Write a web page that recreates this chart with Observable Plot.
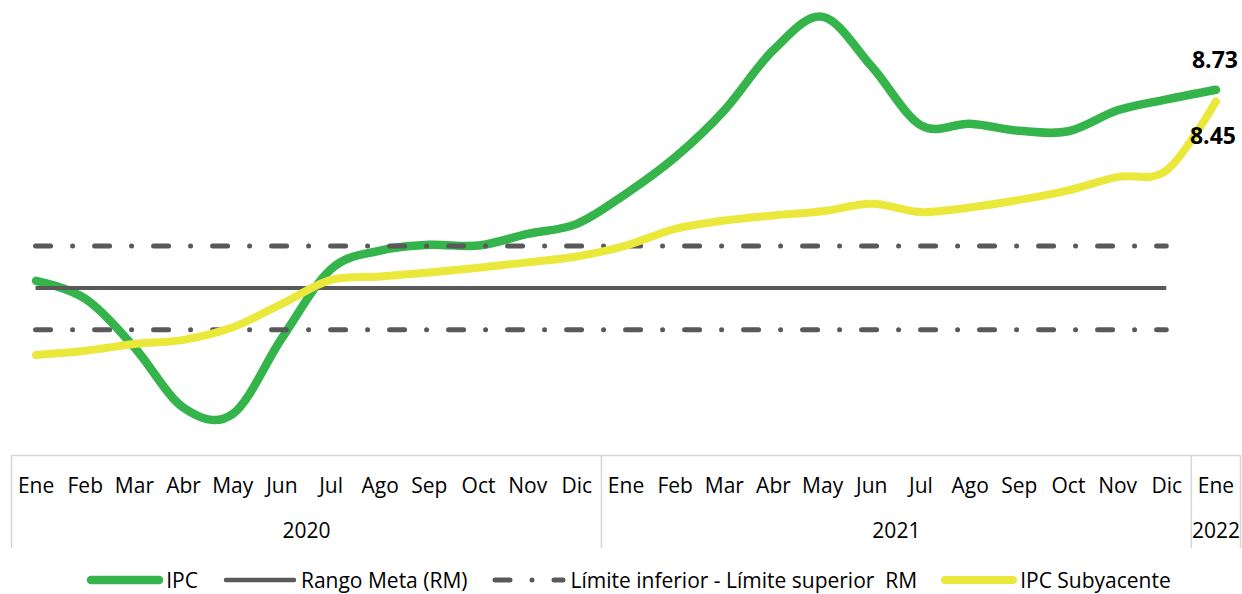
<!DOCTYPE html>
<html>
<head>
<meta charset="utf-8">
<script src="https://cdn.jsdelivr.net/npm/d3@7"></script>
<script src="https://cdn.jsdelivr.net/npm/@observablehq/plot@0.6"></script>
<style>
  html, body { margin: 0; padding: 0; background: #fff; overflow: hidden; }
  body { font-family: "Open Sans", sans-serif; }
  #legend { display: flex; justify-content: center; align-items: center; gap: 24px;
            height: 28px; margin-top: 14px; padding-left: 16px; font-size: 21px; color: #000; }
  .item { display: flex; align-items: center; gap: 3px; white-space: pre; }
  .item svg { display: block; }
</style>
</head>
<body>
<div id="chart"></div>
<div id="legend"></div>
<script>
// ---- data ----
const months = ["Ene","Feb","Mar","Abr","May","Jun","Jul","Ago","Sep","Oct","Nov","Dic",
                "Ene","Feb","Mar","Abr","May","Jun","Jul","Ago","Sep","Oct","Nov","Dic",
                "Ene"];
const yearOf = ["2020","2020","2020","2020","2020","2020","2020","2020","2020","2020","2020","2020",
                "2021","2021","2021","2021","2021","2021","2021","2021","2021","2021","2021","2021",
                "2022"];
const ipc = [4.17, 3.74, 2.58, 1.14, 0.99, 2.80, 4.45, 4.89, 5.03, 5.01, 5.29, 5.53,
             6.25, 7.12, 8.24, 9.68, 10.47, 9.28, 7.88, 7.92, 7.75, 7.74, 8.24, 8.50,
             8.73];
const ipcSub = [2.40, 2.50, 2.66, 2.76, 3.06, 3.62, 4.19, 4.27, 4.37, 4.48, 4.61, 4.75,
                5.01, 5.41, 5.61, 5.73, 5.83, 6.01, 5.81, 5.92, 6.10, 6.33, 6.65, 6.81,
                8.45];
const metaCentral = 4;
const limiteInferior = 3;
const limiteSuperior = 5;
const metaHastaIndex = 23; // target range drawn through Dic 2021

const legendLabels = ["IPC", "Rango Meta (RM)", "Límite inferior - Límite superior  RM", "IPC Subyacente"];

// ---- styles ----
const green = "#35b44b", yellow = "#eae83a", gray = "#595959", tableGray = "#d6d6d6";
const dashPattern = "15 22 0 22";

// ---- derived ----
const data = months.map((m, i) => ({i, mes: m, anio: yearOf[i], ipc: ipc[i], sub: ipcSub[i]}));
const years = Array.from(d3.group(data, d => d.anio), ([anio, rows]) => ({
  anio,
  x: d3.mean(rows, r => r.i),
  x0: d3.min(rows, r => r.i) - 0.5,
  x1: d3.max(rows, r => r.i) + 0.5
}));
const dividers = [years[0].x0, ...years.map(y => y.x1)];
const last = data[data.length - 1];

const chart = Plot.plot({
  width: 1242,
  height: 552,
  marginTop: 0,
  marginLeft: 11,
  marginRight: 2,
  marginBottom: 97,
  x: {type: "linear", domain: [-0.5, months.length - 0.5], axis: null},
  y: {domain: [0, 10.86], axis: null},
  style: {fontFamily: "'Open Sans', sans-serif", fontSize: "21px", background: "#fff", overflow: "visible"},
  marks: [
    // category table
    Plot.ruleY([0], {stroke: tableGray, strokeWidth: 1.5}),
    Plot.ruleX(dividers, {y1: 0, y2: 0, insetBottom: -93, stroke: tableGray, strokeWidth: 1.5}),
    Plot.text(data, {x: "i", text: "mes", frameAnchor: "bottom", dy: 37, fontSize: 21, fill: "#000"}),
    Plot.text(years, {x: "x", text: "anio", frameAnchor: "bottom", dy: 82, fontSize: 21, fill: "#000"}),
    // IPC
    Plot.line(data, {x: "i", y: "ipc", stroke: green, strokeWidth: 8.5, curve: d3.curveCardinal, strokeLinecap: "round", strokeLinejoin: "round"}),
    // target range
    Plot.ruleY([metaCentral], {x1: 0, x2: metaHastaIndex, stroke: gray, strokeWidth: 4}),
    Plot.ruleY([limiteInferior, limiteSuperior], {x1: 0, x2: metaHastaIndex, stroke: gray, strokeWidth: 5, strokeDasharray: dashPattern, strokeLinecap: "round"}),
    // core CPI
    Plot.line(data, {x: "i", y: "sub", stroke: yellow, strokeWidth: 8, curve: d3.curveCardinal, strokeLinecap: "round", strokeLinejoin: "round"}),
    // end labels
    Plot.text([last], {x: "i", y: "ipc", text: d => d.ipc.toFixed(2), dy: -29, dx: -1, fontWeight: "bold", fontSize: 23, fill: "#000"}),
    Plot.text([last], {x: "i", y: "sub", text: d => d.sub.toFixed(2), dy: 35, dx: -3, fontWeight: "bold", fontSize: 23, fill: "#000"})
  ]
});
document.getElementById("chart").appendChild(chart);

// ---- legend ----
const swatches = [
  {stroke: green, width: 8.5, dash: null},
  {stroke: gray, width: 4.5, dash: null},
  {stroke: gray, width: 5, dash: dashPattern},
  {stroke: yellow, width: 8, dash: null}
];
const legend = d3.select("#legend");
legendLabels.forEach((label, k) => {
  const s = swatches[k];
  const item = legend.append("div").attr("class", "item");
  const svg = item.append("svg").attr("width", 76).attr("height", 12);
  svg.append("line")
    .attr("x1", 4).attr("x2", 72).attr("y1", 6).attr("y2", 6)
    .attr("stroke", s.stroke).attr("stroke-width", s.width)
    .attr("stroke-linecap", "round")
    .attr("stroke-dasharray", s.dash);
  item.append("span").text(label);
});
</script>
</body>
</html>
